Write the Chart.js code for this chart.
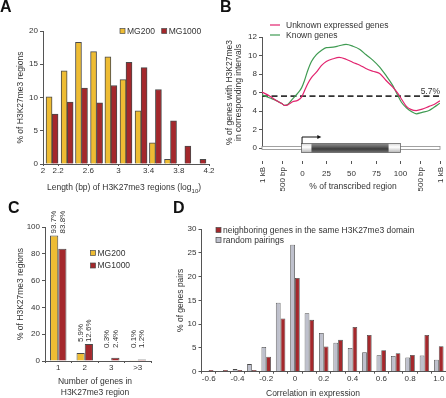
<!DOCTYPE html>
<html><head><meta charset="utf-8">
<script src="https://cdn.jsdelivr.net/npm/chart.js@4.4.0/dist/chart.umd.min.js"></script>
<style>
html,body{margin:0;padding:0;background:#fff;}
body{width:446px;height:398px;position:relative;overflow:hidden;font-family:"Liberation Sans",Arial,sans-serif;}
canvas{position:absolute;}
.lt{position:absolute;font-weight:bold;font-size:16px;line-height:1;color:#111;}
</style></head><body>
<canvas id="cA" width="222" height="200" style="left:0;top:0"></canvas>
<canvas id="cB" width="224" height="200" style="left:222px;top:0"></canvas>
<canvas id="cD" width="296" height="198" style="left:150px;top:200px"></canvas>
<canvas id="cC" width="155" height="198" style="left:0;top:200px"></canvas>
<div class="lt" style="left:0;top:-1px">A</div>
<div class="lt" style="left:220px;top:-1px">B</div>
<div class="lt" style="left:8px;top:200px">C</div>
<div class="lt" style="left:173px;top:200px">D</div>
<script>
// ---------- Panel A data ----------
const lengthBins   = [2.12, 2.32, 2.51, 2.71, 2.90, 3.10, 3.30, 3.49, 3.69, 3.88, 4.08];
const mg200Length  = [10.1, 14.0, 18.3, 16.9, 16.1, 12.7, 8.0, 3.2, 0.7, 0, 0];
const mg1000Length = [7.5, 9.3, 11.4, 9.2, 11.8, 15.3, 14.5, 11.2, 6.5, 2.7, 0.7];
const lengthTicks  = [2, 2.2, 2.6, 3, 3.4, 3.8, 4.2];

// ---------- Panel B data ----------
const bPositions = [-40,-32,-26,-20,-17,-14,-9,-4,0,3,6,10,15,20,25,32,38,45,52,59,65,72,79,85,92,97,101,106,111,116,122,129,134,140];
const unknownExpressed = [6.05,5.6,5.15,4.8,4.6,4.65,5.0,5.15,5.5,6.2,6.9,7.6,8.2,8.9,9.35,9.65,9.8,9.6,9.25,8.95,8.6,8.3,8.05,7.35,6.6,5.95,5.3,4.5,4.15,4.05,4.2,4.5,4.7,5.1];
const knownGenes = [5.75,5.4,5.15,4.8,4.6,4.7,5.3,5.9,6.5,7.3,8.3,9.35,10.1,10.55,10.85,10.9,11.05,11.2,11.0,10.65,10.1,9.5,8.75,7.9,6.8,5.75,4.95,4.35,3.95,3.7,3.85,4.05,4.4,4.85];
const genomeAverage = 5.6;
const genomeAverageLabel = '5.7%';
const bTickPositions = [-40, -20, 0, 25, 50, 75, 100, 120, 140];
const bTickLabels = ['1 kB', '500 bp', '0', '25', '50', '75', '100', '500 bp', '1 kB'];
const geneTxStart = 0, geneTxEnd = 100, geneCdsStart = 10, geneCdsEnd = 88, tssArrowEnd = 20;

// ---------- Panel C data ----------
const geneCountCats = ['1', '2', '3', '>3'];
const mg200Genes  = [93.7, 5.9, 0.3, 0.1];
const mg1000Genes = [83.8, 12.6, 2.4, 1.2];

// ---------- Panel D data ----------
const corrCats = ['-0.6','-0.5','-0.4','-0.3','-0.2','-0.1','0','0.1','0.2','0.3','0.4','0.5','0.6','0.7','0.8','0.9','1.0'];
const randomPairs   = [0, 0.15, 0.55, 1.6, 5.2, 14.5, 26.7, 12.3, 8.15, 6.1, 5.0, 4.1, 3.45, 3.3, 3.0, 3.4, 2.5];
const neighborPairs = [0.35, 0.35, 0.35, 0.35, 3.15, 11.2, 19.7, 10.9, 5.3, 6.7, 9.4, 7.7, 4.5, 3.9, 3.5, 7.7, 5.35];

// ---------- styling ----------
const FONT = "'Liberation Sans', Arial, sans-serif";
const YEL = '#EEBC33', RED = '#A4282C', GRAY = '#BEC0CC', EDGE = '#4a4a4a', AXIS = '#555', TXT = '#333';
const PINK = '#E2246F', GREEN = '#3F9B52';

Chart.defaults.font.family = FONT;
Chart.defaults.font.size = 8;
Chart.defaults.color = TXT;
Chart.defaults.animation = false;
Chart.defaults.responsive = false;
Chart.defaults.devicePixelRatio = 1;
Chart.defaults.plugins.legend.display = false;
Chart.defaults.plugins.tooltip.enabled = false;

function yAxis(min, max, step, width) {
  return {
    min, max,
    ticks: { stepSize: step, padding: 2 },
    grid: { drawOnChartArea: false, tickLength: 3, color: AXIS },
    border: { color: AXIS, width: 1 },
    afterFit: s => { s.width = width; }
  };
}
function rotText(ctx, str, x, y, align) {
  ctx.save();
  ctx.translate(x, y);
  ctx.rotate(-Math.PI / 2);
  ctx.textAlign = align || 'center';
  ctx.textBaseline = 'middle';
  ctx.fillText(str, 0, 0);
  ctx.restore();
}
function squareLegend(ctx, items, x, y0, dy, dx) {
  ctx.save();
  ctx.font = `8.5px ${FONT}`;
  ctx.textBaseline = 'middle';
  ctx.textAlign = 'left';
  items.forEach((it, i) => {
    const x0 = x + (dx ? dx * i : 0), y = y0 + (dy ? dy * i : 0);
    ctx.fillStyle = it.color;
    ctx.fillRect(x0, y - 2.5, 5, 5);
    ctx.strokeStyle = EDGE; ctx.lineWidth = 0.7;
    ctx.strokeRect(x0, y - 2.5, 5, 5);
    ctx.fillStyle = TXT;
    ctx.fillText(it.label, x0 + 7, y + 0.5);
  });
  ctx.restore();
}

// ---------- Panel A ----------
new Chart(document.getElementById('cA'), {
  type: 'bar',
  data: {
    datasets: [
      { label: 'MG200', data: lengthBins.map((x, i) => ({ x, y: mg200Length[i] })), backgroundColor: YEL, borderColor: EDGE, borderWidth: 1, barThickness: 6 },
      { label: 'MG1000', data: lengthBins.map((x, i) => ({ x, y: mg1000Length[i] })), backgroundColor: RED, borderColor: EDGE, borderWidth: 1, barThickness: 6 }
    ]
  },
  options: {
    layout: { padding: { left: 0, top: 31, right: 13, bottom: 0 } },
    scales: {
      x: {
        type: 'linear', min: 2, max: 4.2, offset: false,
        afterBuildTicks: s => { s.ticks = lengthTicks.map(v => ({ value: v })); },
        ticks: { callback: v => String(v), padding: 0, maxRotation: 0, autoSkip: false },
        grid: { drawOnChartArea: false, tickLength: 2, color: AXIS, offset: false },
        border: { color: AXIS },
        afterFit: s => { s.height = 36; }
      },
      y: yAxis(0, 20, 5, 43)
    }
  },
  plugins: [{
    id: 'decoA',
    afterDraw(c) {
      const ctx = c.ctx, a = c.chartArea;
      ctx.save();
      ctx.fillStyle = TXT;
      ctx.font = `8.5px ${FONT}`;
      rotText(ctx, '% of H3K27me3 regions', 20.7, (a.top + a.bottom) / 2);
      const main = 'Length (bp) of H3K27me3 regions (log', sub = '10', end = ')';
      ctx.font = `8.5px ${FONT}`;
      const w1 = ctx.measureText(main).width, w3 = ctx.measureText(end).width;
      ctx.font = `6px ${FONT}`;
      const w2 = ctx.measureText(sub).width;
      let x = (a.left + a.right) / 2 - 2 - (w1 + w2 + w3) / 2;
      const by = a.bottom + 26;
      ctx.textAlign = 'left'; ctx.textBaseline = 'alphabetic';
      ctx.font = `8.5px ${FONT}`; ctx.fillText(main, x, by); x += w1;
      ctx.font = `6px ${FONT}`; ctx.fillText(sub, x, by + 2.5); x += w2;
      ctx.font = `8.5px ${FONT}`; ctx.fillText(end, x, by);
      ctx.restore();
      squareLegend(ctx, c.data.datasets.map(d => ({ label: d.label, color: d.backgroundColor })), 120, 31, 0, 41.7);
    }
  }]
});

// ---------- Panel B ----------
new Chart(document.getElementById('cB'), {
  type: 'line',
  data: {
    datasets: [
      { label: 'Unknown expressed genes', data: bPositions.map((x, i) => ({ x, y: unknownExpressed[i] })), borderColor: PINK, borderWidth: 1.2, pointRadius: 0, cubicInterpolationMode: 'monotone' },
      { label: 'Known genes', data: bPositions.map((x, i) => ({ x, y: knownGenes[i] })), borderColor: GREEN, borderWidth: 1.2, pointRadius: 0, cubicInterpolationMode: 'monotone' },
      { label: 'average', data: [{ x: bPositions[0], y: genomeAverage }, { x: bPositions[bPositions.length - 1], y: genomeAverage }], borderColor: '#333', borderWidth: 1.8, borderDash: [6, 3.5], pointRadius: 0 }
    ]
  },
  options: {
    layout: { padding: { left: 0, top: 37, right: 6, bottom: 52 } },
    scales: {
      x: { type: 'linear', min: -40, max: 140, display: false },
      y: yAxis(0, 12, 2, 40)
    }
  },
  plugins: [{
    id: 'decoB',
    afterDraw(c) {
      const ctx = c.ctx, xs = c.scales.x, ys = c.scales.y, a = c.chartArea;
      const y0 = ys.getPixelForValue(0);
      const xl = xs.getPixelForValue(xs.min), xr = xs.getPixelForValue(xs.max);
      ctx.save();
      // gene tube
      ctx.fillStyle = '#fff'; ctx.strokeStyle = '#8a8a8a'; ctx.lineWidth = 0.8;
      ctx.fillRect(xl, y0 - 1.5, xr - xl, 3);
      ctx.strokeRect(xl, y0 - 1.5, xr - xl, 3);
      // gene box
      const bx0 = xs.getPixelForValue(geneTxStart), bx1 = xs.getPixelForValue(geneTxEnd);
      const cx0 = xs.getPixelForValue(geneCdsStart), cx1 = xs.getPixelForValue(geneCdsEnd);
      const h = 4.5;
      let g = ctx.createLinearGradient(0, y0 - h, 0, y0 + h);
      g.addColorStop(0, '#d8d8d8'); g.addColorStop(0.4, '#ffffff'); g.addColorStop(1, '#b5b5b5');
      ctx.fillStyle = g; ctx.fillRect(bx0, y0 - h, bx1 - bx0, 2 * h);
      g = ctx.createLinearGradient(0, y0 - h, 0, y0 + h);
      g.addColorStop(0, '#8c8c8c'); g.addColorStop(0.3, '#6a6a6a'); g.addColorStop(0.6, '#3c3c3c'); g.addColorStop(1, '#707070');
      ctx.fillStyle = g; ctx.fillRect(cx0, y0 - h, cx1 - cx0, 2 * h);
      ctx.strokeStyle = '#666'; ctx.lineWidth = 0.8;
      ctx.strokeRect(bx0, y0 - h, bx1 - bx0, 2 * h);
      // TSS arrow
      const ax = bx0 + 0.5, ay = y0 - h - 6.5, aEnd = xs.getPixelForValue(tssArrowEnd);
      ctx.strokeStyle = '#111'; ctx.lineWidth = 1;
      ctx.beginPath(); ctx.moveTo(ax, y0 - h); ctx.lineTo(ax, ay); ctx.lineTo(aEnd - 3, ay); ctx.stroke();
      ctx.fillStyle = '#111';
      ctx.beginPath(); ctx.moveTo(aEnd, ay); ctx.lineTo(aEnd - 4, ay - 2); ctx.lineTo(aEnd - 4, ay + 2); ctx.closePath(); ctx.fill();
      // x ticks and labels
      ctx.strokeStyle = AXIS; ctx.lineWidth = 1; ctx.fillStyle = TXT;
      ctx.font = `8px ${FONT}`;
      bTickPositions.forEach((p, i) => {
        const x = Math.round(xs.getPixelForValue(p)) + 0.5;
        ctx.beginPath(); ctx.moveTo(x, y0 + 13); ctx.lineTo(x, y0 + 16); ctx.stroke();
        const lab = bTickLabels[i];
        if (isNaN(Number(lab))) {
          rotText(ctx, lab, x, y0 + 19, 'right');
        } else {
          ctx.textAlign = 'center'; ctx.textBaseline = 'middle';
          ctx.fillText(lab, x, y0 + 25.5);
        }
      });
      // axis titles
      ctx.font = `8.5px ${FONT}`;
      ctx.textAlign = 'center'; ctx.textBaseline = 'middle';
      ctx.fillText('% of transcribed region', (a.left + a.right) / 2 + 2, y0 + 39);
      rotText(ctx, '% of genes with H3K27me3', 8, (a.top + a.bottom) / 2);
      rotText(ctx, 'in corresponding intervals', 16.5, (a.top + a.bottom) / 2);
      // average label
      ctx.font = `8.5px ${FONT}`;
      ctx.textAlign = 'right'; ctx.textBaseline = 'alphabetic';
      ctx.fillText(genomeAverageLabel, xr, ys.getPixelForValue(genomeAverage) - 2);
      // legend
      ctx.textAlign = 'left'; ctx.textBaseline = 'middle';
      c.data.datasets.slice(0, 2).forEach((d, i) => {
        const y = 25 + i * 10;
        ctx.strokeStyle = d.borderColor; ctx.lineWidth = 1.2;
        ctx.beginPath(); ctx.moveTo(48, y); ctx.lineTo(58, y); ctx.stroke();
        ctx.fillStyle = TXT;
        ctx.fillText(d.label, 64, y + 0.5);
      });
      ctx.restore();
    }
  }]
});

// ---------- Panel C ----------
new Chart(document.getElementById('cC'), {
  type: 'bar',
  data: {
    labels: geneCountCats,
    datasets: [
      { label: 'MG200', data: mg200Genes, backgroundColor: YEL, borderColor: EDGE, borderWidth: 1, categoryPercentage: 0.62, barPercentage: 1 },
      { label: 'MG1000', data: mg1000Genes, backgroundColor: RED, borderColor: EDGE, borderWidth: 1, categoryPercentage: 0.62, barPercentage: 1 }
    ]
  },
  options: {
    layout: { padding: { left: 0, top: 27, right: 4, bottom: 0 } },
    scales: {
      x: {
        ticks: { padding: 0, maxRotation: 0, autoSkip: false },
        grid: { drawOnChartArea: false, tickLength: 2, color: AXIS },
        border: { color: AXIS },
        afterFit: s => { s.height = 37; }
      },
      y: yAxis(0, 100, 20, 45)
    }
  },
  plugins: [{
    id: 'decoC',
    afterDraw(c) {
      const ctx = c.ctx, a = c.chartArea, ys = c.scales.y;
      ctx.save();
      ctx.fillStyle = TXT;
      ctx.font = `8px ${FONT}`;
      const m0 = c.getDatasetMeta(0), m1 = c.getDatasetMeta(1);
      geneCountCats.forEach((cat, i) => {
        const top = Math.max(mg200Genes[i], mg1000Genes[i]);
        const base = Math.min(ys.getPixelForValue(top) - 2, ys.getPixelForValue(0) - 13);
        [[m0, mg200Genes], [m1, mg1000Genes]].forEach(([m, arr]) => {
          rotText(ctx, arr[i].toFixed(1) + '%', m.data[i].x, base, 'left');
        });
      });
      ctx.font = `8.5px ${FONT}`;
      rotText(ctx, '% of H3K27me3 regions', 20.7, (a.top + a.bottom) / 2);
      ctx.textAlign = 'center'; ctx.textBaseline = 'middle';
      ctx.fillText('Number of genes in', 95, a.bottom + 21);
      ctx.fillText('H3K27me3 region', 95, a.bottom + 32);
      ctx.restore();
      squareLegend(ctx, c.data.datasets.map(d => ({ label: d.label, color: d.backgroundColor })), 90.5, 53, 12.5, 0);
    }
  }]
});

// ---------- Panel D ----------
new Chart(document.getElementById('cD'), {
  type: 'bar',
  data: {
    labels: corrCats,
    datasets: [
      { label: 'random pairings', data: randomPairs, backgroundColor: GRAY, borderColor: EDGE, borderWidth: 0.8, categoryPercentage: 0.66, barPercentage: 1 },
      { label: 'neighboring genes in the same H3K27me3 domain', data: neighborPairs, backgroundColor: RED, borderColor: EDGE, borderWidth: 0.8, categoryPercentage: 0.66, barPercentage: 1 }
    ]
  },
  options: {
    layout: { padding: { left: 0, top: 29, right: 0, bottom: 0 } },
    scales: {
      x: {
        ticks: { padding: 0, maxRotation: 0, autoSkip: false, callback: (v, i) => (i % 2 === 0 ? corrCats[i] : '') },
        grid: { drawOnChartArea: false, tickLength: 2, color: AXIS },
        border: { color: AXIS },
        afterFit: s => { s.height = 26.3; }
      },
      y: yAxis(0, 30, 5, 51.5)
    }
  },
  plugins: [{
    id: 'decoD',
    afterDraw(c) {
      const ctx = c.ctx, a = c.chartArea;
      ctx.save();
      ctx.fillStyle = TXT;
      ctx.font = `8.5px ${FONT}`;
      rotText(ctx, '% of genes pairs', 30.7, (a.top + a.bottom) / 2);
      ctx.textAlign = 'center'; ctx.textBaseline = 'middle';
      ctx.fillText('Correlation in expression', 163, a.bottom + 21.5);
      ctx.restore();
      const ds = c.data.datasets;
      squareLegend(ctx, [ds[1], ds[0]].map(d => ({ label: d.label, color: d.backgroundColor })), 66, 30, 10, 0);
    }
  }]
});
</script>
</body></html>
